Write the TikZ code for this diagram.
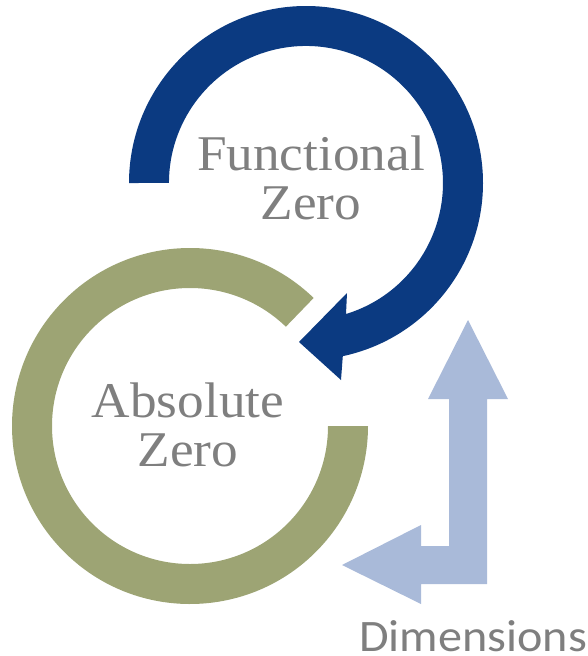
\documentclass[tikz,border=0pt]{standalone}
\usepackage{fontspec}
\setmainfont{Liberation Serif}
\newfontfamily\calfont{Carlito}
\definecolor{zeroblue}{HTML}{0B3A81}
\definecolor{zerogreen}{HTML}{9DA474}
\definecolor{dimblue}{HTML}{A9BAD9}
\definecolor{labelgray}{HTML}{7F7F7F}
\tikzset{
  zerolabel/.style={text=labelgray, align=center, inner sep=0pt, xscale=1.065, font=\fontsize{50}{49}\selectfont},
  dimlabel/.style={text=labelgray, inner sep=0pt, anchor=base west, xscale=1.07, font=\calfont\fontsize{45}{45}\selectfont}
}
\begin{document}
\begin{tikzpicture}[x=1pt, y=-1pt]
  \useasboundingbox (0,0) rectangle (588,656);
  \fill[zerogreen] (190,426) ++(-46:178) arc[start angle=-46, end angle=-360, radius=178] -- ++(-40,0) arc[start angle=-360, end angle=-46, radius=138] -- cycle;
  \fill[zeroblue] (129,183) arc[start angle=180, end angle=438, radius=177] -- (341,380) -- (299,342) -- (347,293) -- (346,314) arc[start angle=73, end angle=-180, radius=137] -- cycle;
  \fill[dimblue] (468,320) -- (508,399) -- (487,399) -- (487,584) -- (421,584) -- (421,604) -- (342,565) -- (421,525) -- (421,546) -- (449,546) -- (449,399) -- (428,399) -- cycle;
  \node[zerolabel] (functional) at (311,178) {Functional\\Zero};
  \node[zerolabel] (absolute) at (188,425) {Absolute\\Zero};
  \node[dimlabel] (dimensions) at (359,651) {Dimensions};
\end{tikzpicture}
\end{document}
